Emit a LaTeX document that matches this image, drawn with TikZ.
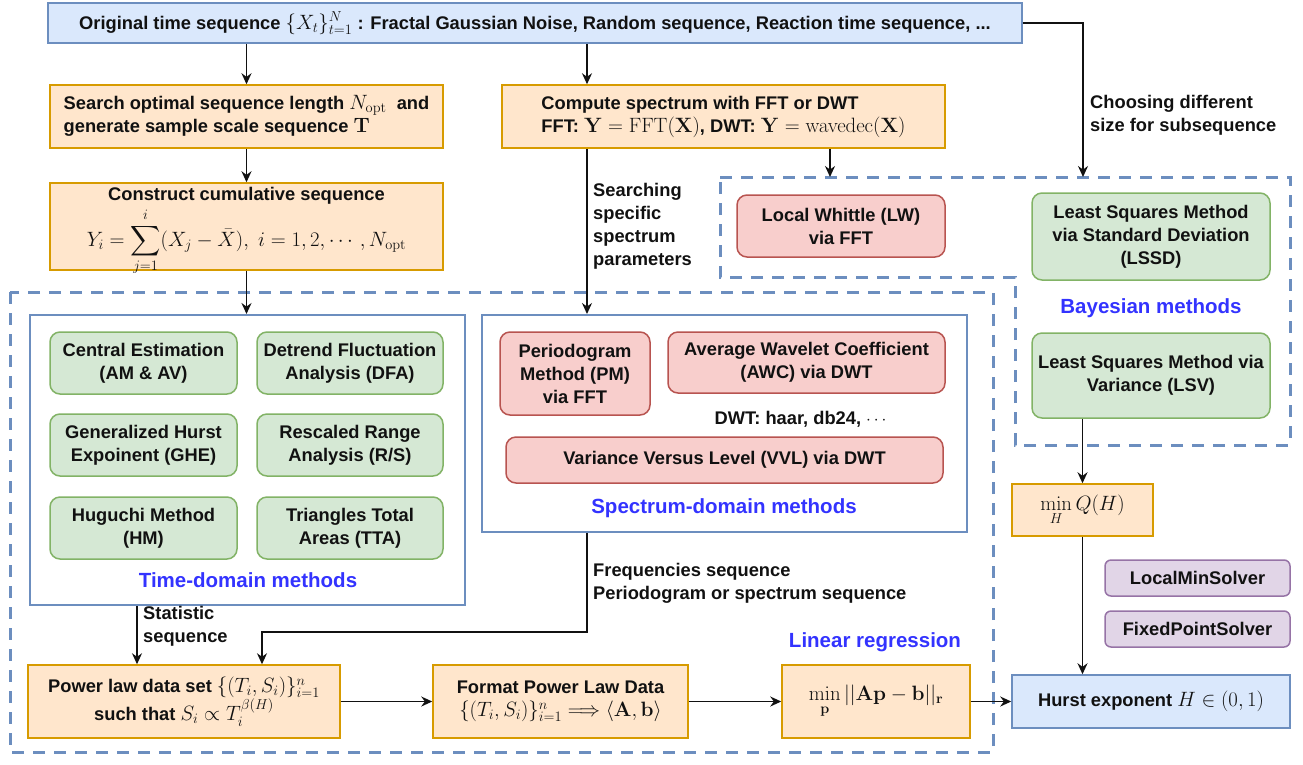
\documentclass[tikz,border=0pt]{standalone}
\usepackage[no-math]{fontspec}
\setmainfont{Liberation Sans}
\usepackage{amsmath,amssymb}
\usetikzlibrary{arrows.meta}
\definecolor{orf}{HTML}{FFE6CC}
\definecolor{orb}{HTML}{D79B00}
\definecolor{grf}{HTML}{D5E8D4}
\definecolor{grb}{HTML}{82B366}
\definecolor{rdf}{HTML}{F8CECC}
\definecolor{rdb}{HTML}{B85450}
\definecolor{puf}{HTML}{E1D5E7}
\definecolor{pub}{HTML}{9673A6}
\definecolor{blf}{HTML}{DAE8FC}
\definecolor{blb}{HTML}{6C8EBF}
\definecolor{ttl}{HTML}{3333FF}
\definecolor{txt}{HTML}{111111}
\newcommand{\mth}[1]{{\fontsize{21}{23}\selectfont$#1$}}
\tikzset{
  base/.style={font=\fontsize{18.3}{23}\selectfont\bfseries, text=txt, inner sep=0pt, align=center},
  obox/.style={base, draw=orb, fill=orf, line width=1.5pt},
  bbox/.style={base, draw=blb, fill=blf, line width=1.5pt},
  gbox/.style={base, draw=grb, fill=grf, line width=1.5pt, rounded corners=10pt},
  rbox/.style={base, draw=rdb, fill=rdf, line width=1.5pt, rounded corners=10pt},
  pbox/.style={base, draw=pub, fill=puf, line width=1.5pt, rounded corners=6pt},
  cont/.style={draw=blb, fill=white, line width=2pt},
  dashreg/.style={draw=blb, line width=3pt, dash pattern=on 12pt off 9pt},
  arr/.style={draw=txt, line width=1.5pt, -{Stealth[length=11pt,width=10pt]}},
  lbl/.style={base, align=left, anchor=west},
  title/.style={font=\fontsize{20.5}{24}\selectfont\bfseries, text=ttl, inner sep=0pt}
}
\begin{document}
\begin{tikzpicture}[x=1pt,y=-1pt]
\useasboundingbox (0,0) rectangle (1303,764);
% dashed regions
\draw[dashreg] (10,292) rectangle (993,752);
\draw[dashreg] (720,177) -- (1290,177) -- (1290,445) -- (1015,445) -- (1015,277) -- (720,277) -- cycle;
% containers
\node[cont, minimum width=435, minimum height=290] (time) at (247.5,460) {};
\node[cont, minimum width=485, minimum height=217] (spec) at (724.5,423.5) {};
% top
\node[bbox, minimum width=974, minimum height=40] (top) at (535,23)
  {Original time sequence \mth{\{X_t\}_{t=1}^{N}} : Fractal Gaussian Noise, Random sequence, Reaction time sequence, ...};
% left column
\node[obox, minimum width=393, minimum height=63] (search) at (246.5,116.5)
  {\begin{tabular}{@{}l@{}}Search optimal sequence length \mth{N_{\mathrm{opt}}}\ \ and\\ generate sample scale sequence \mth{\mathbf{T}}\end{tabular}};
\node[obox, minimum width=393, minimum height=87] (construct) at (246.5,226.5) {};
\node[base] (consttitle) at (246.5,196) {Construct cumulative sequence};
\node[base] (constform) at (246.5,242)
  {\mth{\displaystyle Y_i=\sum_{j=1}^{i}(X_j-\bar{X}),\ i=1,2,\cdots,N_{\mathrm{opt}}}};
\node[obox, minimum width=443, minimum height=63] (compute) at (723.5,116.5)
  {\begin{tabular}{@{}l@{}}Compute spectrum with FFT or DWT\\ FFT: \mth{\mathbf{Y}=\mathrm{FFT}(\mathbf{X})}, DWT: \mth{\mathbf{Y}=\mathrm{wavedec}(\mathbf{X})}\end{tabular}};
% time-domain methods
\node[gbox, minimum width=187, minimum height=62] (ce) at (143.5,363) {Central Estimation\\(AM \& AV)};
\node[gbox, minimum width=186, minimum height=62] (dfa) at (350,363) {Detrend Fluctuation\\Analysis (DFA)};
\node[gbox, minimum width=187, minimum height=62] (ghe) at (143.5,445) {Generalized Hurst\\Expoinent (GHE)};
\node[gbox, minimum width=186, minimum height=62] (rs) at (350,445) {Rescaled Range\\Analysis (R/S)};
\node[gbox, minimum width=187, minimum height=62] (hm) at (143.5,528) {Huguchi Method\\(HM)};
\node[gbox, minimum width=186, minimum height=62] (tta) at (350,528) {Triangles Total\\Areas (TTA)};
\node[title] (ttime) at (248,580) {Time-domain methods};
% spectrum methods
\node[rbox, minimum width=150, minimum height=83] (pm) at (575,373.5) {Periodogram\\Method (PM)\\via FFT};
\node[rbox, minimum width=277, minimum height=61] (awc) at (806.5,362.5) {Average Wavelet Coefficient\\(AWC) via DWT};
\node[base] (dwt) at (802,419) {DWT: haar, db24, $\cdots$};
\node[rbox, minimum width=437, minimum height=46] (vvl) at (724.5,460) {Variance Versus Level (VVL) via DWT};
\node[title] (tspec) at (724,508) {Spectrum-domain methods};
% LW and Bayesian
\node[rbox, minimum width=208, minimum height=62] (lw) at (841,226) {Local Whittle (LW)\\via FFT};
\node[gbox, minimum width=238, minimum height=87] (lssd) at (1151,236.5) {Least Squares Method\\via Standard Deviation\\(LSSD)};
\node[title] (tbay) at (1151,308) {Bayesian methods};
\node[gbox, minimum width=238, minimum height=85] (lsv) at (1151,375.5) {Least Squares Method via\\Variance (LSV)};
% right column
\node[obox, minimum width=141, minimum height=52] (minq) at (1082.5,510) {\mth{\displaystyle\min_{H} Q(H)}};
\node[pbox, minimum width=185, minimum height=36] (lms) at (1197.5,578) {LocalMinSolver};
\node[pbox, minimum width=185, minimum height=36] (fps) at (1197.5,629) {FixedPointSolver};
\node[bbox, minimum width=278, minimum height=53] (hurst) at (1151,701.5) {Hurst exponent \mth{H\in(0,1)}};
% bottom row
\node[obox, minimum width=312, minimum height=73] (power) at (184,701.5)
  {Power law data set \mth{\{(T_i,S_i)\}_{i=1}^{n}}\\ such that \mth{S_i\propto T_i^{\beta(H)}}};
\node[obox, minimum width=255, minimum height=73] (format) at (560.5,701.5)
  {Format Power Law Data\\ \mth{\{(T_i,S_i)\}_{i=1}^{n}\Longrightarrow\langle\mathbf{A},\mathbf{b}\rangle}};
\node[obox, minimum width=188, minimum height=73] (minp) at (876,701.5)
  {\mth{\displaystyle\min_{\mathbf{p}}||\mathbf{A}\mathbf{p}-\mathbf{b}||_{\mathbf{r}}}};
\node[title] (tlin) at (875,642) {Linear regression};
% helper coordinates
\coordinate (c587) at (587,0);
\coordinate (c137) at (137,0);
\coordinate (lwtop) at (830,177);
\coordinate (baytop) at (1083,177);
\coordinate (bend) at (262,632);
% connectors
\draw[arr] (top.south -| search.north) -- (search.north);
\draw[arr] (top.south -| c587) -- (compute.north -| c587);
\draw[arr] (top.east) -| (baytop);
\draw[arr] (search.south) -- (construct.north);
\draw[arr] (construct.south) -- (time.north -| construct.south);
\draw[arr] (compute.south -| c587) -- (spec.north -| c587);
\draw[arr] (compute.south -| lwtop) -- (lwtop);
\draw[arr] (time.south -| c137) -- (power.north -| c137);
\draw[arr] (spec.south -| c587) |- (bend) -- (power.north -| bend);
\draw[arr] (power.east) -- (format.west);
\draw[arr] (format.east) -- (minp.west);
\draw[arr] (minp.east) -- (hurst.west);
\draw[arr] (minq.north |- lsv.south) -- (minq.north);
\draw[arr] (minq.south) -- (hurst.north -| minq.south);
% labels
\node[lbl] (lchoose) at (1090,115.5) {Choosing different\\size for subsequence};
\node[lbl] (lsearch) at (593,226.5) {Searching\\specific\\spectrum\\parameters};
\node[lbl] (lstat) at (143,626.5) {Statistic\\sequence};
\node[lbl] (lfreq) at (593,583.5) {Frequencies sequence\\Periodogram or spectrum sequence};
\end{tikzpicture}
\end{document}
